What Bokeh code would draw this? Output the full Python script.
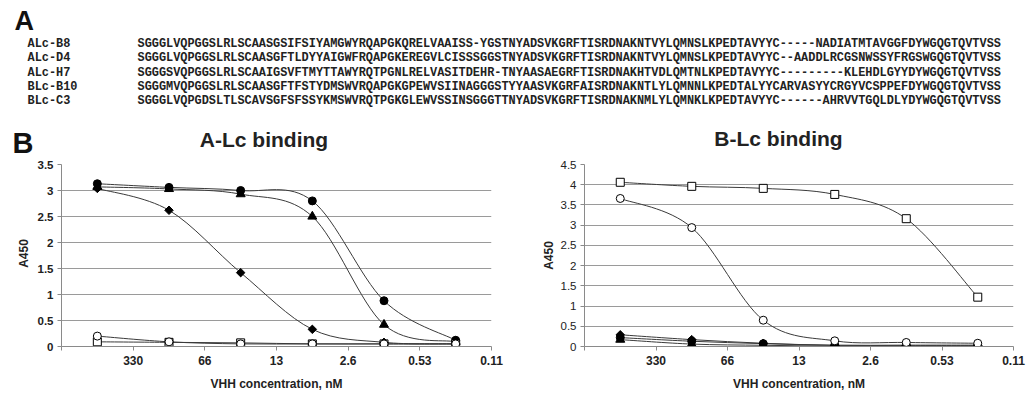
import numpy as np
from bokeh.plotting import figure
from bokeh.layouts import column, row
from bokeh.models import Range1d, FixedTicker, NumeralTickFormatter
from bokeh.embed import file_html
from bokeh.resources import INLINE
from bokeh.core.properties import value

# ---------------- data ----------------
seq_names = ["ALc-B8", "ALc-D4", "ALc-H7", "BLc-B10", "BLc-C3"]
sequences = [
    "SGGGLVQPGGSLRLSCAASGSIFSIYAMGWYRQAPGKQRELVAAISS-YGSTNYADSVKGRFTISRDNAKNTVYLQMNSLKPEDTAVYYC-----NADIATMTAVGGFDYWGQGTQVTVSS",
    "SGGGLVQPGGSLRLSCAASGFTLDYYAIGWFRQAPGKEREGVLCISSSGGSTNYADSVKGRFTISRDNAKNTVYLQMNSLKPEDTAVYYC--AADDLRCGSNWSSYFRGSWGQGTQVTVSS",
    "SGGGSVQPGGSLRLSCAAIGSVFTMYTTAWYRQTPGNLRELVASITDEHR-TNYAASAEGRFTISRDNAKHTVDLQMTNLKPEDTAVYYC---------KLEHDLGYYDYWGQGTQVTVSS",
    "SGGGMVQPGGSLRLSCAASGFTFSTYDMSWVRQAPGKGPEWVSIINAGGGSTYYAASVKGRFAISRDNAKNTLYLQMNNLKPEDTALYYCARVASYYCRGYVCSPPEFDYWGQGTQVTVSS",
    "SGGGLVQPGDSLTLSCAVSGFSFSSYKMSWVRQTPGKGLEWVSSINSGGGTTNYADSVKGRFTISRDNAKNMLYLQMNKLKPEDTAVYYC------AHRVVTGQLDLYDYWGQGTQVTVSS",
]

conc_labels = ["330", "66", "13", "2.6", "0.53", "0.11"]
chart_titles = ["A-Lc binding", "B-Lc binding"]
y_title = "A450"
x_title = "VHH concentration, nM"

# A-Lc binding (A450)
a_filled_circle = [3.13, 3.06, 3.00, 2.80, 0.88, 0.12]
a_filled_triangle = [3.07, 3.03, 2.93, 2.50, 0.42, 0.09]
a_filled_diamond = [3.04, 2.62, 1.42, 0.33, 0.08, 0.05]
a_open_square = [0.09, 0.08, 0.07, 0.05, 0.05, 0.05]
a_open_circle = [0.20, 0.09, 0.05, 0.05, 0.05, 0.05]

# B-Lc binding (A450)
b_open_square = [4.06, 3.96, 3.91, 3.76, 3.16, 1.22]
b_open_circle = [3.66, 2.94, 0.65, 0.14, 0.10, 0.08]
b_filled_diamond = [0.29, 0.17, 0.08, 0.03, 0.03, 0.03]
b_filled_circle = [0.22, 0.13, 0.07, 0.03, 0.03, 0.03]
b_filled_triangle = [0.17, 0.06, 0.03, 0.01, 0.01, 0.01]

# ---------------- style ----------------
SANS = "Liberation Sans"
MONO = "Liberation Mono"
TXT = "#222222"
AX = "#8a8a8a"
GRID = "#9a9a9a"
LINE = "#3a3a3a"
W = 1026


def text_fig(w, h):
    f = figure(width=w, height=h, x_range=Range1d(0, w), y_range=Range1d(h, 0),
               output_backend="svg", toolbar_location=None, min_border=0)
    f.axis.visible = False
    f.grid.visible = False
    f.outline_line_color = None
    return f


# ---------------- panel A: alignment ----------------
TOP_H = 107
pa = text_fig(W, TOP_H)
row_y = [43, 57.5, 72, 86.5, 100.8]
pa.text(x=[14], y=[20], text=["A"], text_font=value(SANS), text_font_style="bold",
        text_font_size="27px", text_color="#111111", text_baseline="middle")
pa.text(x=[27] * len(seq_names), y=row_y, text=seq_names, text_font=value(MONO),
        text_font_style="bold", text_font_size="11.9px", text_color=TXT, text_baseline="middle")
pa.text(x=[137] * len(sequences), y=row_y, text=sequences, text_font=value(MONO),
        text_font_style="bold", text_font_size="11.9px", text_color=TXT, text_baseline="middle")

# ---------------- left column: "B" and left y title ----------------
LC_W = 34
STRIP_H = 48
CH_H = 239
pc = text_fig(LC_W, STRIP_H + CH_H)
pc.text(x=[12], y=[142.5 - TOP_H], text=["B"], text_font=value(SANS), text_font_style="bold",
        text_font_size="29px", text_color="#111111", text_baseline="middle")
pc.text(x=[23], y=[253 - TOP_H], text=[y_title], angle=np.pi / 2, text_font=value(SANS),
        text_font_style="bold", text_font_size="12px", text_color=TXT,
        text_align="center", text_baseline="middle")

# ---------------- strip with chart titles ----------------
ps = text_fig(W - LC_W, STRIP_H)
ps.text(x=[263.5 - LC_W, 778 - LC_W], y=[138.5 - TOP_H, 138 - TOP_H], text=chart_titles,
        text_font=value(SANS), text_font_style="bold", text_font_size="21px",
        text_color=TXT, text_align="center", text_baseline="middle")


# ---------------- helpers ----------------
def smooth(xs, ys):
    P = list(zip(xs, ys))
    n = len(P)
    out = {k: [] for k in ("x0", "y0", "x1", "y1", "cx0", "cy0", "cx1", "cy1")}
    for i in range(n - 1):
        pm = P[max(i - 1, 0)]
        p0 = P[i]
        p1 = P[i + 1]
        p2 = P[min(i + 2, n - 1)]
        out["x0"].append(p0[0]); out["y0"].append(p0[1])
        out["x1"].append(p1[0]); out["y1"].append(p1[1])
        out["cx0"].append(p0[0] + (p1[0] - pm[0]) / 6.0)
        out["cy0"].append(p0[1] + (p1[1] - pm[1]) / 6.0)
        out["cx1"].append(p1[0] - (p2[0] - p0[0]) / 6.0)
        out["cy1"].append(p1[1] - (p2[1] - p0[1]) / 6.0)
    return out


def make_chart(width, left, right, ymax, bold_y, ylabel):
    p = figure(width=width, height=CH_H, x_range=Range1d(0, 6), y_range=Range1d(0, ymax),
               output_backend="svg", toolbar_location=None,
               min_border_left=left, min_border_right=right,
               min_border_top=9, min_border_bottom=48)
    p.outline_line_color = None
    p.background_fill_color = "white"
    p.xgrid.visible = False
    p.ygrid.ticker = FixedTicker(ticks=list(np.arange(0.5, ymax - 0.01, 0.5)))
    p.ygrid.grid_line_color = GRID
    p.ygrid.grid_line_width = 1

    for ax in (p.xaxis[0], p.yaxis[0]):
        ax.axis_line_color = AX
        ax.major_tick_line_color = AX
        ax.minor_tick_line_color = None
        ax.major_tick_in = 0
        ax.major_tick_out = 4
        ax.major_label_text_color = TXT
        ax.major_label_text_font = SANS
        ax.axis_label_text_font = SANS
        ax.axis_label_text_font_style = "bold"
        ax.axis_label_text_color = TXT
        ax.axis_label_text_font_size = "12px"

    p.xaxis.ticker = FixedTicker(ticks=list(range(7)))
    ov = {0: ""}
    for i, lab in enumerate(conc_labels):
        ov[i + 1] = lab
    p.xaxis.major_label_overrides = ov
    p.xaxis.major_label_text_font_size = "12px"
    p.xaxis.major_label_text_font_style = "bold"
    p.xaxis.major_label_standoff = 5
    p.xaxis.axis_label = x_title
    p.xaxis.axis_label_standoff = 9

    p.yaxis.ticker = FixedTicker(ticks=list(np.arange(0, ymax + 0.01, 0.5)))
    p.yaxis.formatter = NumeralTickFormatter(format="0.[0]")
    p.yaxis.major_label_text_font_size = "11.5px"
    p.yaxis.major_label_text_font_style = "bold" if bold_y else "normal"
    p.yaxis.major_label_standoff = 4
    if ylabel:
        p.yaxis.axis_label = ylabel
        p.yaxis.axis_label_standoff = 2
    return p


xs = list(np.arange(len(conc_labels)) + 0.5)


def draw_series(p, ys, marker, filled, size, angle=0.0):
    s = smooth(xs, ys)
    p.bezier(x0=s["x0"], y0=s["y0"], x1=s["x1"], y1=s["y1"],
             cx0=s["cx0"], cy0=s["cy0"], cx1=s["cx1"], cy1=s["cy1"],
             line_color=LINE, line_width=1)
    return (ys, marker, filled, size, angle)


def draw_markers(p, spec):
    ys, marker, filled, size, angle = spec
    p.scatter(x=xs, y=ys, marker=marker, size=size, angle=angle,
              fill_color="black" if filled else "white", line_color="black", line_width=1)


# ---------------- panel B left ----------------
pl = make_chart(515 - LC_W, 61 - LC_W, 24, 3.5, True, None)
specs = [
    draw_series(pl, a_filled_diamond, "square", True, 6, np.pi / 4),
    draw_series(pl, a_filled_triangle, "triangle", True, 9),
    draw_series(pl, a_filled_circle, "circle", True, 8),
    draw_series(pl, a_open_square, "square", False, 8),
    draw_series(pl, a_open_circle, "circle", False, 8),
]
for sp in specs:
    draw_markers(pl, sp)

# ---------------- panel B right ----------------
pr = make_chart(W - 515, 69, W - 515 - 69 - 429, 4.5, False, y_title)
specs = [
    draw_series(pr, b_filled_diamond, "square", True, 6, np.pi / 4),
    draw_series(pr, b_filled_circle, "circle", True, 8),
    draw_series(pr, b_filled_triangle, "triangle", True, 9),
    draw_series(pr, b_open_square, "square", False, 8),
    draw_series(pr, b_open_circle, "circle", False, 8),
]
for sp in specs:
    draw_markers(pr, sp)

layout = column(
    pa,
    row(pc, column(ps, row(pl, pr, spacing=0), spacing=0), spacing=0),
    spacing=0,
)
open("out.html", "w").write(file_html(layout, INLINE))
